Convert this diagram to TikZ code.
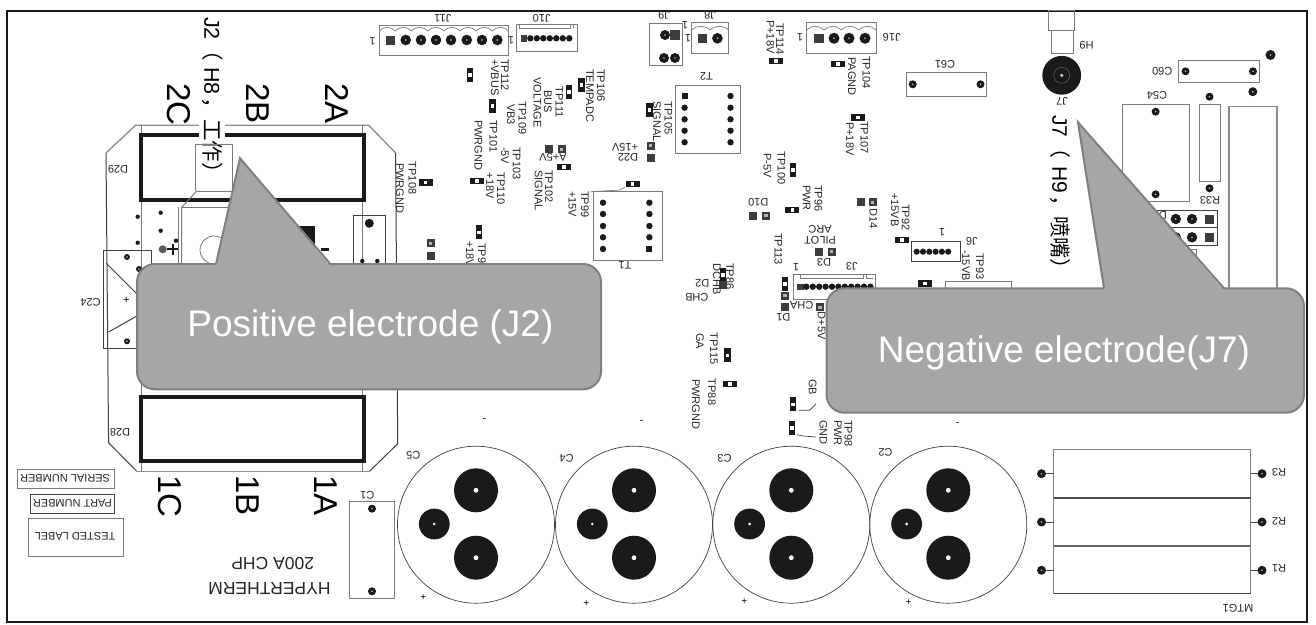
\documentclass[tikz,border=0pt]{standalone}
\usepackage{fontspec}
\setmainfont{Liberation Sans}
\newfontfamily\cjk{Noto Sans CJK SC}
\definecolor{pinc}{HTML}{1A1A1A}
\definecolor{boxc}{HTML}{7A7A7A}
\definecolor{callc}{HTML}{A6A6A6}
\definecolor{calld}{HTML}{7F7F7F}
\tikzset{
  vtxt/.style={rotate=-90,anchor=west,inner sep=0pt,text=black!85,text height=7.6pt,text depth=0pt,font=\fontsize{11}{12}\selectfont},
  utxt/.style={rotate=180,inner sep=0pt,text=black!85,text height=7.6pt,text depth=0pt,font=\fontsize{11}{12}\selectfont},
  bigtxt/.style={vtxt,text=black,text height=24pt,font=\fontsize{33}{36}\selectfont},
  cnhead/.style={vtxt,text=black,text height=15.5pt,font=\fontsize{21.5}{24}\selectfont},
  calltxt/.style={inner sep=0pt,text=white,font=\fontsize{37}{40}\selectfont},
  part/.style={draw=boxc,line width=1pt},
  darkpart/.style={draw=black!75,line width=1pt},
  graypart/.style={draw=black!45,line width=1.3pt},
  thickbox/.style={draw=pinc,line width=3.5pt},
  callout/.style={draw=calld,fill=callc,line width=2pt,rounded corners=18pt},
  callbeak/.style={draw=calld,line width=2pt,line join=miter},
  hpad/.pic={\fill[pinc] (-7,-3.2) rectangle (7,3.2); \fill[white] (-1.8,-1.8) rectangle (1.8,1.8);},
  vpad/.pic={\fill[pinc] (-3.2,-7) rectangle (3.2,7); \fill[white] (-1.8,-1.8) rectangle (1.8,1.8);},
  sqpad/.pic={\fill[pinc!85] (-4,-4) rectangle (4,4);},
  ringpad/.pic={\fill[pinc!85] (-4,-4) rectangle (4,4); \fill[white!70!black] (-1.6,-1.6) rectangle (1.6,1.6);},
}
\newcommand{\pinat}[3]{\fill[pinc] (#1,#2) circle (#3pt); \fill[white!75!black] (#1,#2) circle (0.9pt);}
\newcommand{\wavetop}[4]{\foreach \i in {1,...,#2} \draw[part,line width=0.7pt] ({#1+#3*(\i-1)},#4) .. controls ({#1+#3*(\i-1)+#3*0.3},#4-5) and ({#1+#3*\i-#3*0.3},#4-5) .. ({#1+#3*\i},#4);}
\begin{document}
\begin{tikzpicture}[x=1pt,y=-1pt]
\useasboundingbox (0,0) rectangle (1316,624);
\fill[white] (0,0) rectangle (1316,624);
\draw[black!90,line width=1.3pt] (7,11) rectangle (1307,622);
\draw[black!90,line width=2.2pt] (7,11) -- (1307,11);
% power module outline
\draw[graypart] (106,153) -- (135.5,125.3) -- (368.7,125.3) -- (395.6,153);
\draw[darkpart] (395.6,153) -- (397.7,443.7) -- (369.5,471.3);
\draw[graypart] (369.5,471.3) -- (136.8,471.3);
\draw[darkpart] (136.8,471.3) -- (108.6,442.7) -- (106,153);
\draw[part] (141,125.3) -- (141,471.3);
\draw[part] (362.8,125.3) -- (362.8,471.3);
\draw[thickbox] (141,135) rectangle (364,200);
\draw[thickbox] (141,397) rectangle (364,461);
\fill[white] (199,121) rectangle (225,139);
\draw (118,169) node[utxt] (d29) {D29};
\draw (120,432) node[utxt] (d28) {D28};
\draw (179,83) node[bigtxt] (lab2c) {2C};
\draw (258,83) node[bigtxt] (lab2b) {2B};
\draw (337,83) node[bigtxt] (lab2a) {2A};
\draw (170.5,475) node[bigtxt] (lab1c) {1C};
\draw (248.3,475) node[bigtxt] (lab1b) {1B};
\draw (326,475) node[bigtxt] (lab1a) {1A};
\draw (212,17) node[cnhead] (headjtwo) {J2{\cjk（}\hspace{6pt}H8\hspace{3pt}{\cjk，工作）}};
% parts under the left callout
\draw[part] (232.3,191) -- (232.3,144) -- (195.3,144) -- (195.3,191);
\draw[part] (196.7,191) -- (181.7,207.3) -- (181.7,290);
\draw[part] (178.5,207.3) -- (178.5,290);
\draw[part] (196.7,191) -- (250,191);
\draw[part] (181.7,207.3) -- (250,207.3);
\draw[black!60,line width=0.7pt] (214,250) circle (14pt);
\fill[pinc] (280,226) rectangle (315,265);
\fill[pinc] (321,248.3) rectangle (329,251);
\fill[black!65] (162.7,249.3) circle (4pt);
\draw[pinc,line width=2pt] (167,249.3) -- (178,249.3) (172.7,244) -- (172.7,255);
\foreach \x/\y in {160.7/212.7,160.7/230.7,137.7/216.7,137.7/242.7,176/240.7}
  \fill[pinc] (\x,\y) circle (2.2pt);
\draw[darkpart] (353.3,290) -- (353.3,215.7) -- (385.7,215.7) -- (385.7,290);
\fill[pinc] (369.3,223.3) circle (4.5pt);
\fill[pinc] (362.3,261) circle (2.2pt);
\fill[pinc] (377.3,261) circle (2.2pt);
\draw[darkpart] (103.3,250) rectangle (151,348.7);
\draw[darkpart] (106,263) -- (151,308) -- (108.6,332);
\pinat{127}{257}{3}
\pinat{139}{269}{3}
\pinat{127}{341.3}{3}
\draw (126.3,300) node[inner sep=0pt,font=\fontsize{11}{12}\selectfont] (cplus) {+};
\draw (90.5,302.7) node[utxt] (c24) {C24};
% connectors along the top
\draw[part] (379,25) rectangle (508.4,55);
\wavetop{379}{8}{16.2}{31}
\fill[pinc!85] (386,36) rectangle (395,45);
\foreach \x in {405.7,421,436,451,466.7,482,497.3} {\pinat{\x}{40}{5.3}}
\draw (442.8,18) node[utxt] (j11) {J11};
\draw (372.5,41) node[utxt] (j11one) {1};
\draw[part] (516,24) rectangle (577.3,51.7);
\draw[part,line width=0.7pt] (519,24) -- (519,28.3) -- (570,28.3) -- (570,24) (573,24) -- (573,28.3);
\fill[pinc!85] (520.5,35) rectangle (527,41.5);
\foreach \x in {530.3,536.8,543.3,549.8,556.3,562.8,569.3} {\fill[pinc] (\x,38.3) circle (3.2pt);}
\draw (541.7,18) node[utxt] (j10) {J10};
\draw (511,40) node[utxt] (j10one) {1};
\draw[part] (649.3,23) rectangle (682,65.7);
\pinat{665}{35}{5}
\fill[pinc!85] (670,30) rectangle (680,40);
\pinat{664}{58}{5}
\pinat{675}{58}{5}
\draw (664,15) node[utxt] (j9) {J9};
\draw (685,25) node[utxt] (j9one) {1};
\draw[part] (691.8,22.7) rectangle (728.4,53.3);
\wavetop{691.8}{2}{18.3}{30}
\fill[pinc!85] (697.5,33.5) rectangle (707,43);
\pinat{717.4}{38.3}{5.3}
\draw (710,15) node[utxt] (j8) {J8};
\draw (688,38) node[utxt] (j8one) {1};
\draw[part] (806.7,22.7) rectangle (876,53.3);
\wavetop{806.7}{4}{17.3}{30}
\fill[pinc!85] (814.2,33.5) rectangle (823.7,43);
\foreach \x in {834,849,865} {\pinat{\x}{38.3}{5.5}}
\draw (800,37) node[utxt] (j16one) {1};
\draw (891.7,37) node[utxt] (j16) {J16};
% test point labels, upper left
\draw (505,59) node[vtxt] (tp112) {TP112};
\draw (495,59) node[vtxt] (vbus) {+VBUS};
\pic at (470,75) {vpad};
\pic at (492.3,105.7) {vpad};
\draw (493.3,120) node[vtxt] (tp101) {TP101};
\draw (478.3,120) node[vtxt] (pwrgnda) {PWRGND};
\pic at (476.7,180.7) {hpad};
\draw (522.3,101.7) node[vtxt] (tp109) {TP109};
\draw (511,104) node[vtxt] (vb3) {VB3};
\draw (548,90) node[vtxt] (bus) {BUS};
\draw (537.3,77) node[vtxt] (voltage) {VOLTAGE};
\draw (559.3,86.7) node[vtxt] (tp111) {TP111};
\pic at (568.7,91.7) {vpad};
\draw (601,69) node[vtxt] (tp106) {TP106};
\draw (590,69) node[vtxt] (tempadc) {TEMPADC};
\pic at (581.3,85) {vpad};
\draw (516.7,147) node[vtxt] (tp103) {TP103};
\draw (505,147) node[vtxt] (minusfive) {-5V};
\draw (500.8,172.7) node[vtxt] (tp110) {TP110};
\draw (490,172.7) node[vtxt] (plusei) {+18V};
\draw (549,170) node[vtxt] (tp102) {TP102};
\draw (538.7,170) node[vtxt] (signala) {SIGNAL};
\pic at (564,167) {hpad};
\draw (553,157.7) node[utxt] (afive) {A+5V};
\pic at (549,149.3) {sqpad};
\pic at (561.7,149.3) {ringpad};
\draw (668.3,101.7) node[vtxt] (tp105) {TP105};
\draw (657,101) node[vtxt] (signalb) {SIGNAL};
\pic at (649.3,110) {vpad};
\draw (625,147.3) node[utxt] (plusfifa) {+15V};
\draw (628,157) node[utxt] (d22) {D22};
\pic at (650.7,145.7) {ringpad};
\pic at (650.7,157.7) {sqpad};
\draw (585,191) node[vtxt] (tp99) {TP99};
\draw (572.4,191) node[vtxt] (plusfifb) {+15V};
\pic at (632.6,184) {hpad};
\draw (412.5,161.7) node[vtxt] (tp108) {TP108};
\draw (400,163) node[vtxt] (pwrgndb) {PWRGND};
\pic at (425.5,182.3) {hpad};
\draw (482,243) node[vtxt] (tp97) {TP97};
\draw (470,241) node[vtxt] (pluseib) {+18V};
\pic at (479,232.3) {vpad};
\pic at (430.6,243.3) {ringpad};
\pic at (430.6,255.7) {sqpad};
% transformers
\draw[part] (593.4,191.7) rectangle (662,260);
\draw[part,line width=0.7pt] (590.5,191.7) -- (620,190) -- (625,187);
\foreach \y in {202.7,214,226,237.3,249} {\fill[pinc] (603,\y) circle (3.2pt);}
\foreach \y in {202.7,214,226,237.3} {\fill[pinc] (649.4,\y) circle (3.2pt);}
\fill[pinc] (646.4,246) rectangle (652.4,252);
\draw (625,265.7) node[utxt] (t1) {T1};
\draw[part] (675,85) rectangle (740,153.3);
\foreach \y in {107.7,119.3,130.7,142.3} {\fill[pinc] (684.6,\y) circle (3.2pt);}
\fill[pinc] (681.6,93) rectangle (687.6,99);
\foreach \y in {96,107.7,119.3,130.7,142.3} {\fill[pinc] (730.5,\y) circle (3.2pt);}
\draw (706.5,76) node[utxt] (t2) {T2};
% test point labels, middle
\draw (780,23) node[vtxt] (tp114) {TP114};
\draw (770.5,20) node[vtxt] (pplusa) {P+18V};
\pic at (776,61) {hpad};
\draw (866.4,56) node[vtxt] (tp104) {TP104};
\draw (852,57) node[vtxt] (pagnd) {PAGND};
\pic at (838,64) {hpad};
\draw (864.3,121) node[vtxt] (tp107) {TP107};
\draw (850,122) node[vtxt] (pplusb) {P+18V};
\pic at (858,117.3) {hpad};
\draw (781.4,151.7) node[vtxt] (tp100) {TP100};
\draw (767.5,153) node[vtxt] (pfive) {P-5V};
\pic at (792.7,170) {vpad};
\draw (818.3,185) node[vtxt] (tp96) {TP96};
\draw (806.7,185) node[vtxt] (pwra) {PWR};
\pic at (792.3,210) {hpad};
\draw (758.3,202.3) node[utxt] (d10) {D10};
\pic at (753.3,215.7) {sqpad};
\pic at (766,215.7) {ringpad};
\draw (873.3,208) node[vtxt] (d14) {D14};
\pic at (861.3,202.3) {sqpad};
\pic at (872.7,202.3) {ringpad};
\draw (895,193) node[vtxt] (fifvb) {+15VB};
\draw (905.7,204) node[vtxt] (tp92) {TP92};
\pic at (901.7,239.7) {hpad};
\draw[darkpart] (911.7,241.3) rectangle (960,261.7);
\foreach \x in {916.7,923,929.3,935.6,941.9,948.2} {\fill[pinc] (\x,251.7) circle (3.1pt);}
\draw (942,232.7) node[utxt] (j6one) {1};
\draw (971.7,241) node[utxt] (j6) {J6};
\draw (966,250) node[vtxt] (mfifvb) {-15VB};
\draw (980,253) node[vtxt] (tp93) {TP93};
\pic at (925,283.3) {hpad};
\draw[part] (945.7,300) -- (945.7,281.7) -- (1011,281.7) -- (1011,300);
\draw (820,229) node[utxt] (arc) {ARC};
\draw (820,240) node[utxt] (pilot) {PILOT};
\draw (778.3,233) node[vtxt] (tp113) {TP113};
\draw (824,262.3) node[utxt] (d3) {D3};
\pic at (819.3,251.7) {sqpad};
\pic at (831.7,251.7) {ringpad};
\draw[part] (793.3,274) rectangle (875,299.3);
\draw[part,line width=0.7pt] (800,274) -- (800,278.3) -- (863,278.3) -- (863,274) (866,274) -- (866,278.3) -- (873,278.3);
\fill[pinc!85] (797,283.5) rectangle (803.5,290);
\foreach \i in {1,...,11} {\fill[pinc] ({800+6.4*\i},286.7) circle (3.2pt);}
\draw (796,267.7) node[utxt] (j3one) {1};
\draw (851.7,266.7) node[utxt] (j3) {J3};
\pic at (785,284) {vpad};
\pic at (785,295.7) {ringpad};
\pic at (785,307.3) {sqpad};
\pic at (820,307.3) {ringpad};
\draw (801.7,305.7) node[utxt] (cha) {CHA};
\draw (783.4,317) node[utxt] (d1) {D1};
\draw (821.7,311.7) node[vtxt] (dfive) {D+5V};
\draw (730,263) node[vtxt] (tp86) {TP86};
\draw (717,263) node[vtxt] (dchb) {DCHB};
\pic at (723,275) {vpad};
\pic at (723,285) {sqpad};
\draw (702.3,283.3) node[utxt] (d2) {D2};
\draw (696.8,297.7) node[utxt] (chb) {CHB};
% test point labels, lower
\draw (714,332.7) node[vtxt] (tp115) {TP115};
\draw (700,333) node[vtxt] (ga) {GA};
\pic at (727.5,355.3) {vpad};
\draw (712,378.7) node[vtxt] (tp88) {TP88};
\draw (696,379) node[vtxt] (pwrgndc) {PWRGND};
\pic at (729.7,383.7) {hpad};
\draw (812.6,379) node[vtxt] (gb) {GB};
\pic at (792.8,404.3) {vpad};
\coordinate (gbend) at (816,403.7);
\draw[darkpart,line width=0.7pt] (799,410.3) -- (809.6,410.3) -- (gbend);
\draw (848.3,420) node[vtxt] (tp98) {TP98};
\draw (837.8,420) node[vtxt] (pwrb) {PWR};
\draw (823.5,420) node[vtxt] (gnd) {GND};
\pic at (792,427.7) {vpad};
\coordinate (gndend) at (816,437);
\draw[darkpart,line width=0.7pt] (797,434.7) -- (803,436) -- (gndend);
% right hand parts
\draw[part] (1048.7,10) rectangle (1074.8,30.7);
\draw[part] (1051,30.7) rectangle (1073.5,53.3);
\fill[pinc] (1061.7,75.3) circle (19.4pt);
\draw[black!60,line width=0.5pt] (1061.7,75.3) circle (8pt);
\draw[white!70!black,fill=white!80!black] (1061.7,75.3) circle (1.5pt);
\draw (1086.5,45.7) node[utxt] (h9) {H9};
\draw (1062,101) node[utxt] (j7) {J7};
\draw (1060,115) node[cnhead,font=\fontsize{21}{24}\selectfont] (headjseven) {J7{\cjk（}\hspace{8pt}H9\hspace{2pt}{\cjk，喷嘴）}};
\draw[part] (906.4,72.7) rectangle (986.4,96);
\pinat{912.7}{84.3}{4}
\pinat{980.5}{84.3}{4}
\draw (945,64) node[utxt] (c61) {C61};
\draw[part] (1178.7,60) rectangle (1259,82.7);
\pinat{1185.5}{71.3}{4}
\pinat{1253}{71.3}{4}
\pinat{1270.5}{55}{5}
\pinat{1252.8}{91.7}{4.5}
\draw (1162.3,71) node[utxt] (c60) {C60};
\draw[part] (1122,104.3) rectangle (1189,201.7);
\pinat{1155.6}{111.7}{4}
\pinat{1155.6}{194.3}{4}
\draw (1157,95.7) node[utxt] (c54) {C54};
\draw[part] (1199,104) rectangle (1220,181.7);
\pinat{1209.5}{96.7}{4}
\pinat{1209.5}{188.3}{4}
\draw (1210,200) node[utxt] (r33) {R33};
\draw[graypart] (1229,300) -- (1229,106.7) -- (1277,106.7) -- (1277,300);
\draw[darkpart] (1157,210.7) rectangle (1217,227.2);
\draw[darkpart] (1157,227.2) rectangle (1217,245.7);
\foreach \y in {219,237.3} {
  \pinat{1175.8}{\y}{5.2}
  \pinat{1192}{\y}{5.2}
  \fill[pinc!85] (1204.5,\y-4.5) rectangle (1213.5,\y+4.5);
}
\draw[part] (1160,249) rectangle (1196,275);
\draw (1163,215) node[utxt] (dhidden) {D};
% capacitors
\foreach \cx/\cname/\lx/\ly/\px/\py in {476/C5/413.3/455.3/423.4/598,634/C4/566.5/458/586.3/604,791.3/C3/724.6/458.7/744.4/602,948.3/C2/885.4/452/908.5/603} {
  \draw[black!75,line width=0.7pt] (\cx,524.7) circle (78.5pt);
  \fill[pinc] (\cx,490.3) circle (22pt);
  \fill[pinc] (\cx,557.7) circle (22pt);
  \fill[pinc] (\cx-41.7,524) circle (15.4pt);
  \fill[white] (\cx,490.3) circle (2.4pt);
  \fill[white] (\cx,557.7) circle (2.4pt);
  \fill[white] (\cx-41.7,524) circle (1.4pt);
  \draw (\lx,\ly) node[utxt] (lab\cname) {\cname};
  \draw (\px,\py) node[inner sep=0pt,font=\fontsize{10}{12}\selectfont] (plus\cname) {+};
}
\foreach \x/\y in {484.8/418.7,641/420,957/422.7}
  \fill[black!70] (\x-1.5,\y-0.5) rectangle (\x+1.5,\y+0.5);
\draw[part] (349.3,501.3) rectangle (394.8,598.7);
\pinat{372}{508.7}{4}
\pinat{372}{591.3}{4}
\draw (367.4,495.3) node[utxt] (c1) {C1};
% labels on the lower left
\draw[part] (17.7,469.3) rectangle (114.5,488.7);
\draw (65,478.7) node[utxt] (serial) {SERIAL NUMBER};
\draw[darkpart] (30.7,494.3) rectangle (114.5,513.3);
\draw (72.4,503) node[utxt] (partno) {PART NUMBER};
\draw[part] (28.6,518) rectangle (123.3,556.3);
\draw (75,536) node[utxt] (tested) {TESTED LABEL};
\draw (269.4,588.7) node[utxt,text height=12.5pt,font=\fontsize{17.5}{20}\selectfont] (hyper) {HYPERTHERM};
\draw (272.7,563.7) node[utxt,text height=12.5pt,font=\fontsize{17.5}{20}\selectfont] (chp) {200A CHP};
% MTG1
\draw[black!50,line width=1.2pt] (1053.7,593.7) -- (1053.7,449.7) -- (1250.7,449.7) -- (1250.7,593.7);
\draw[black!75,line width=1.2pt] (1053.7,593.7) -- (1250.7,593.7);
\draw[black!70,line width=2pt] (1053.7,497.7) -- (1250.7,497.7);
\draw[black!60,line width=2pt] (1053.7,546.3) -- (1250.7,546.3);
\foreach \y/\rname/\ly in {473.7/R3/472.7,522/R2/521,570.3/R1/568.7} {
  \draw[black!70,line width=0.8pt] (1041.5,\y) -- (1053.7,\y) (1250.7,\y) -- (1262,\y);
  \pinat{1041.5}{\y}{4.5}
  \pinat{1262}{\y}{4.5}
  \draw (1279,\ly) node[utxt] (lab\rname) {\rname};
}
\draw (1238,608) node[utxt] (mtg) {MTG1};
% callouts
\draw[callout] (137,264) rectangle (601,389.3);
\fill[callc] (216,266) -- (240,158.3) -- (330.4,266) -- cycle;
\draw[callbeak] (216,264) -- (240,158.3) -- (330.4,264);
\draw (370.4,327) node[calltxt] (posnote) {Positive electrode (J2)};
\draw[callout] (826.5,288.3) rectangle (1304,412.7);
\fill[callc] (1104,290.3) -- (1078,122.3) -- (1224,290.3) -- cycle;
\draw[callbeak] (1104,288.3) -- (1078,122.3) -- (1224,288.3);
\draw (1064,352.5) node[calltxt] (negnote) {Negative electrode(J7)};
\end{tikzpicture}
\end{document}
